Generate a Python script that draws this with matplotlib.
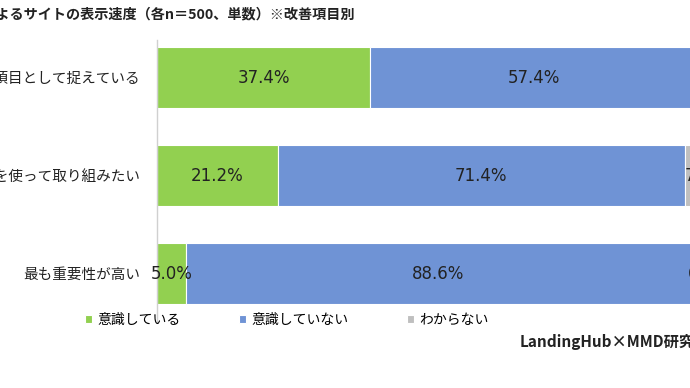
import matplotlib.pyplot as plt
import numpy as np

plt.rcParams['font.family'] = ['Noto Sans CJK JP', 'DejaVu Sans']

# ---- data ----
categories = ["表示速度を改善項目として捉えている", "外部サービスを使って取り組みたい", "最も重要性が高い"]
series_names = ["意識している", "意識していない", "わからない"]
aware = [37.4, 21.2, 5.0]
not_aware = [57.4, 71.4, 88.6]
unknown = [5.2, 7.4, 6.4]
title = "企業によるサイトの表示速度（各n＝500、単数）※改善項目別"
source = "LandingHub×MMD研究所調べ"

colors = ["#92D050", "#6F93D5", "#BFBFBF"]

W, H = 690, 388
fig = plt.figure(figsize=(W / 100, H / 100), dpi=100)
# axes runs past the right edge, the reference is a crop of a wider chart
ax = fig.add_axes([157 / W, 1 - 322 / H, 570 / W, 282 / H])

y = np.arange(len(categories))
left = np.zeros(len(categories))
for vals, name, c in zip([aware, not_aware, unknown], series_names, colors):
    vals = np.array(vals)
    ax.barh(y, vals, left=left, height=0.62, color=c, label=name,
            edgecolor="white", linewidth=0.8)
    for yi, l, v in zip(y, left, vals):
        ax.text(l + v / 2, yi + 0.01, f"{v:.1f}%", ha="center", va="center",
                fontsize=12, family="DejaVu Sans", color="#222222")
    left += vals

ax.set_xlim(0, 100)
ax.set_ylim(2.495, -0.38)
ax.set_yticks(y)
ax.set_yticklabels(categories, fontsize=10.5, color="#222222")
ax.tick_params(axis="y", length=0, pad=12)
ax.set_xticks([])
for s in ["top", "right", "bottom"]:
    ax.spines[s].set_visible(False)
ax.spines["left"].set_color("#D0D0D0")
ax.spines["left"].set_linewidth(1.0)

fig.text(355 / W, 1 - 14 / H, title, ha="right", va="center",
         fontsize=10.2, fontweight="bold", color="#222222")

fig.legend(loc="center left", bbox_to_anchor=(72 / W, 1 - 320 / H), ncol=3,
           frameon=False, fontsize=10, handlelength=0.55, handleheight=0.55,
           handletextpad=0.35, columnspacing=4.2)

fig.text(520 / W, 1 - 342 / H, source, ha="left", va="center",
         fontsize=11, fontweight="bold", color="#222222")

fig.savefig("out.png", dpi=100)
